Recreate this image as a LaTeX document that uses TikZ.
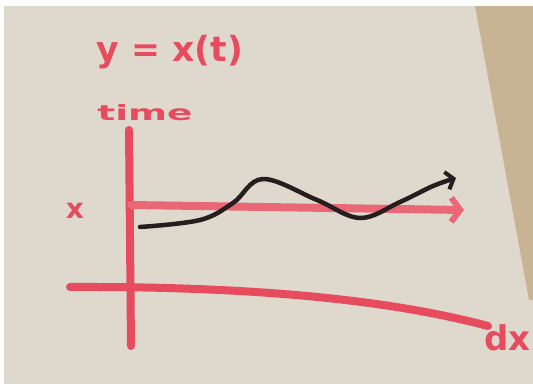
\documentclass[tikz,border=0pt]{standalone}
\usepackage{fontspec}
\setmainfont{DejaVu Sans}
\usetikzlibrary{arrows.meta, positioning}
\definecolor{paper}{RGB}{222,216,205}
\definecolor{desk}{RGB}{200,180,148}
\definecolor{markerred}{RGB}{230,76,94}
\definecolor{penblack}{RGB}{38,30,30}

\begin{document}
\begin{tikzpicture}[x=1pt, y=-1pt,
    marker/.style={draw=markerred, line width=8pt, line cap=round},
    pen/.style={draw=penblack, line width=4.5pt, line cap=round},
    hand/.style={text=markerred, font=\bfseries, inner sep=0pt}
]
% photo of the sheet
\fill[white] (0,0) rectangle (533,386);
\fill[paper] (4,6) rectangle (533,384);
\fill[desk] (475,6) -- (533,6) -- (533,300) -- (529,300) -- cycle;
\useasboundingbox (0,0) rectangle (533,386);
\clip (0,0) rectangle (533,386);

\coordinate (ytop) at (129,130);
\coordinate (ybot) at (131,346);
\coordinate (xleft) at (70,287);
\coordinate (xright) at (488,326);
\coordinate (lvlstart) at (131,205);
\coordinate (lvlend) at (464,210);

\node[hand] (title) at (170,52) {\resizebox{146pt}{!}{y = x(t)}};
\node[hand] (timelbl) at (145,113) {\resizebox{95pt}{16pt}{time}};
\node[hand] (xtick) at (75,211) {\fontsize{28}{28}\selectfont x};
\node[hand, anchor=west] (dxlbl) at (484,338) {\fontsize{34}{34}\selectfont dx};

% axes
\draw[marker] (ytop) -- (ybot);
\draw[marker] (xleft) .. controls (300,286) and (420,308) .. (xright);
\draw[marker, draw=markerred!85, -{Straight Barb[length=9pt, width=24pt, line width=6pt]}] (lvlstart) -- (lvlend);

% the signal
\draw[pen, -{Straight Barb[length=7pt, width=18pt, line width=4pt]}] plot[smooth, tension=0.6] coordinates
    {(140,227) (200,220) (233,203) (263,179) (317,200) (360,218) (400,202) (433,186) (456,178)};
\end{tikzpicture}
\end{document}
